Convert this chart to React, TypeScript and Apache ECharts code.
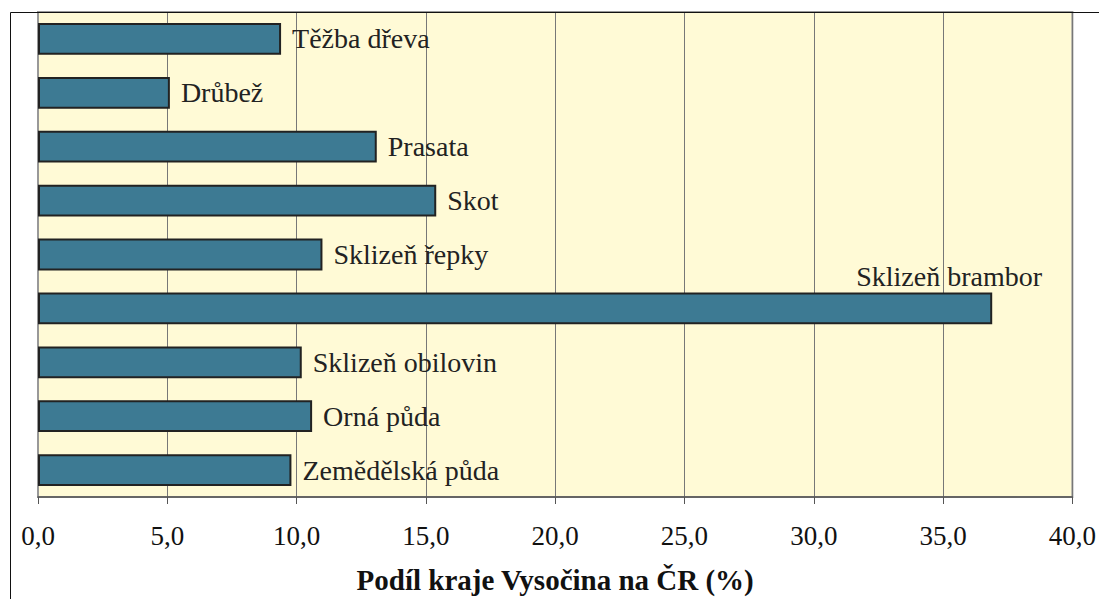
import React, { useEffect, useRef } from "react";
import * as echarts from "echarts";

const categories = [
  "Těžba dřeva",
  "Drůbež",
  "Prasata",
  "Skot",
  "Sklizeň řepky",
  "Sklizeň brambor",
  "Sklizeň obilovin",
  "Orná půda",
  "Zemědělská půda",
];
const values = [9.4, 5.1, 13.1, 15.4, 11.0, 36.9, 10.2, 10.6, 9.8];
const xMin = 0;
const xMax = 40;
const xInterval = 5;
const axisTitle = "Podíl kraje Vysočina na ČR (%)";

const FONT = "'Liberation Serif', 'Times New Roman', serif";

export default function App() {
  const ref = useRef<HTMLDivElement>(null);
  useEffect(() => {
    document.body.style.margin = "0";
    const chart = echarts.init(ref.current!, undefined, { renderer: "svg" });
    const data = values.map((v, i) => {
      if (categories[i] === "Sklizeň brambor") {
        return { value: v, label: { position: "right", offset: [-147, -32] } };
      }
      return v;
    });
    chart.setOption({
      animation: false,
      backgroundColor: "#ffffff",
      grid: {
        left: 38,
        top: 12,
        right: 23,
        bottom: 100,
        show: true,
        backgroundColor: "#FFFAD6",
        borderColor: "#999999",
        borderWidth: 2,
        containLabel: false,
      },
      xAxis: {
        type: "value",
        min: xMin,
        max: xMax,
        interval: xInterval,
        name: axisTitle,
        nameLocation: "middle",
        nameGap: 68,
        nameTextStyle: {
          fontFamily: FONT,
          fontSize: 29,
          fontWeight: "bold",
          color: "#111111",
        },
        axisLine: { show: true, lineStyle: { color: "#555555", width: 1.5 } },
        axisTick: { show: true, inside: false, length: 7, lineStyle: { color: "#555555", width: 1 } },
        axisLabel: {
          margin: 25,
          fontFamily: FONT,
          fontSize: 27,
          color: "#111111",
          formatter: (v: number) => v.toFixed(1).replace(".", ","),
        },
        splitLine: { show: true, lineStyle: { color: "#777777", width: 1 } },
      },
      yAxis: {
        type: "category",
        data: categories,
        inverse: true,
        axisLine: { show: true, lineStyle: { color: "#999999", width: 2 } },
        axisTick: { show: false },
        axisLabel: { show: false },
        splitLine: { show: false },
      },
      graphic: [
        {
          type: "rect",
          shape: { x: 10.5, y: 12.5, width: 1300, height: 800 },
          style: { fill: "none", stroke: "#111111", lineWidth: 1 },
          z: 100,
          silent: true,
        },
      ],
      series: [
        {
          type: "bar",
          data,
          barCategoryGap: "41%",
          itemStyle: { color: "#3D7A93", borderColor: "#222222", borderWidth: 2 },
          label: {
            show: true,
            position: "right",
            distance: 11,
            formatter: (p: any) => categories[p.dataIndex],
            fontFamily: FONT,
            fontSize: 28,
            color: "#222222",
          },
        },
      ],
    });
    return () => chart.dispose();
  }, []);
  return <div ref={ref} style={{ width: 1099, height: 599 }} />;
}
